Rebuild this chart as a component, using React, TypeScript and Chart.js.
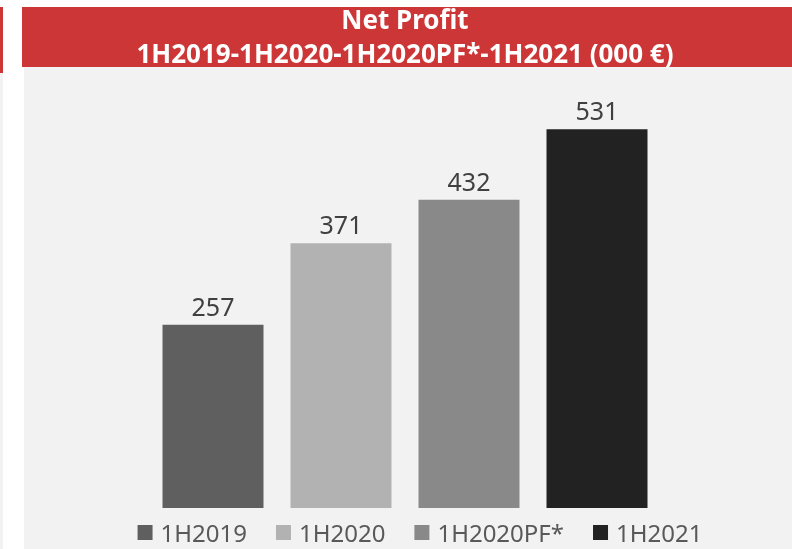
import React, { useEffect, useRef } from "react";
import { Chart, registerables } from "chart.js";

Chart.register(...registerables);

const categories = [""];
const seriesLabels = ["1H2019", "1H2020", "1H2020PF*", "1H2021"];
const seriesValues = [257, 371, 432, 531];
const seriesColors = ["#5f5f5f", "#b2b2b2", "#898989", "#222222"];
const titleLines = ["Net Profit", "1H2019-1H2020-1H2020PF*-1H2021 (000 €)"];
const yMax = 600;

const RED = "#cd3636";
const PANEL = "#f2f2f2";

const backgroundPlugin = {
  id: "bgPanels",
  beforeDraw(chart: any) {
    const ctx = chart.ctx;
    const w = chart.width;
    const h = chart.height;
    ctx.save();
    ctx.fillStyle = "#ffffff";
    ctx.fillRect(0, 0, w, h);
    ctx.fillStyle = RED;
    ctx.fillRect(0, 7, 3, 66);
    ctx.fillStyle = PANEL;
    ctx.fillRect(0, 73, 3, h - 73);
    ctx.fillStyle = RED;
    ctx.fillRect(22, 7, w - 22, 60);
    ctx.fillStyle = PANEL;
    ctx.fillRect(24, 67, w - 24, h - 67);
    ctx.restore();
  },
};

const dataLabelPlugin = {
  id: "dataLabels",
  afterDatasetsDraw(chart: any) {
    const ctx = chart.ctx;
    ctx.save();
    ctx.font = "25px 'Noto Sans'";
    ctx.fillStyle = "#404040";
    ctx.textAlign = "center";
    ctx.textBaseline = "alphabetic";
    chart.data.datasets.forEach((ds: any, i: number) => {
      const meta = chart.getDatasetMeta(i);
      meta.data.forEach((bar: any, j: number) => {
        ctx.fillText(String(ds.data[j]), bar.x, bar.y - 9);
      });
    });
    ctx.restore();
  },
};

const legendPlugin = {
  id: "customLegend",
  afterDraw(chart: any) {
    const ctx = chart.ctx;
    ctx.save();
    ctx.font = "24px 'Noto Sans'";
    ctx.textBaseline = "alphabetic";
    ctx.textAlign = "left";
    const box = 15;
    const boxGap = 8;
    const itemGap = 29;
    const widths = seriesLabels.map((t) => box + boxGap + ctx.measureText(t).width);
    const total = widths.reduce((a, b) => a + b, 0) + itemGap * (widths.length - 1);
    let x = 420 - total / 2;
    seriesLabels.forEach((t, i) => {
      ctx.fillStyle = seriesColors[i];
      ctx.fillRect(x, 525, box, box);
      ctx.fillStyle = "#595959";
      ctx.fillText(t, x + box + boxGap, 542);
      x += widths[i] + itemGap;
    });
    ctx.restore();
  },
};

export default function App() {
  const canvasRef = useRef<HTMLCanvasElement | null>(null);

  useEffect(() => {
    if (!canvasRef.current) return;
    const chart = new Chart(canvasRef.current, {
      type: "bar",
      data: {
        labels: categories,
        datasets: seriesLabels.map((label, i) => ({
          label,
          data: [seriesValues[i]],
          backgroundColor: seriesColors[i],
          borderWidth: 0,
          barPercentage: 0.789,
          categoryPercentage: 0.6615,
        })),
      },
      options: {
        responsive: false,
        animation: false,
        layout: { padding: { left: 18, right: 0, top: 0, bottom: 41 } },
        plugins: {
          legend: { display: false },
          tooltip: { enabled: false },
          title: {
            display: true,
            text: titleLines,
            color: "#ffffff",
            font: { family: "'Noto Sans'", size: 26, weight: "bold", lineHeight: 34 / 26 },
            padding: { top: 5, bottom: 7 },
          },
        },
        scales: {
          x: { display: false, grid: { display: false } },
          y: { display: false, min: 0, max: yMax, grid: { display: false } },
        },
      },
      plugins: [backgroundPlugin, dataLabelPlugin, legendPlugin],
    });
    return () => chart.destroy();
  }, []);

  return (
    <div style={{ position: "absolute", left: 0, top: 0, width: 792, height: 549 }}>
      <canvas ref={canvasRef} width={792} height={549} style={{ display: "block" }} />
    </div>
  );
}
